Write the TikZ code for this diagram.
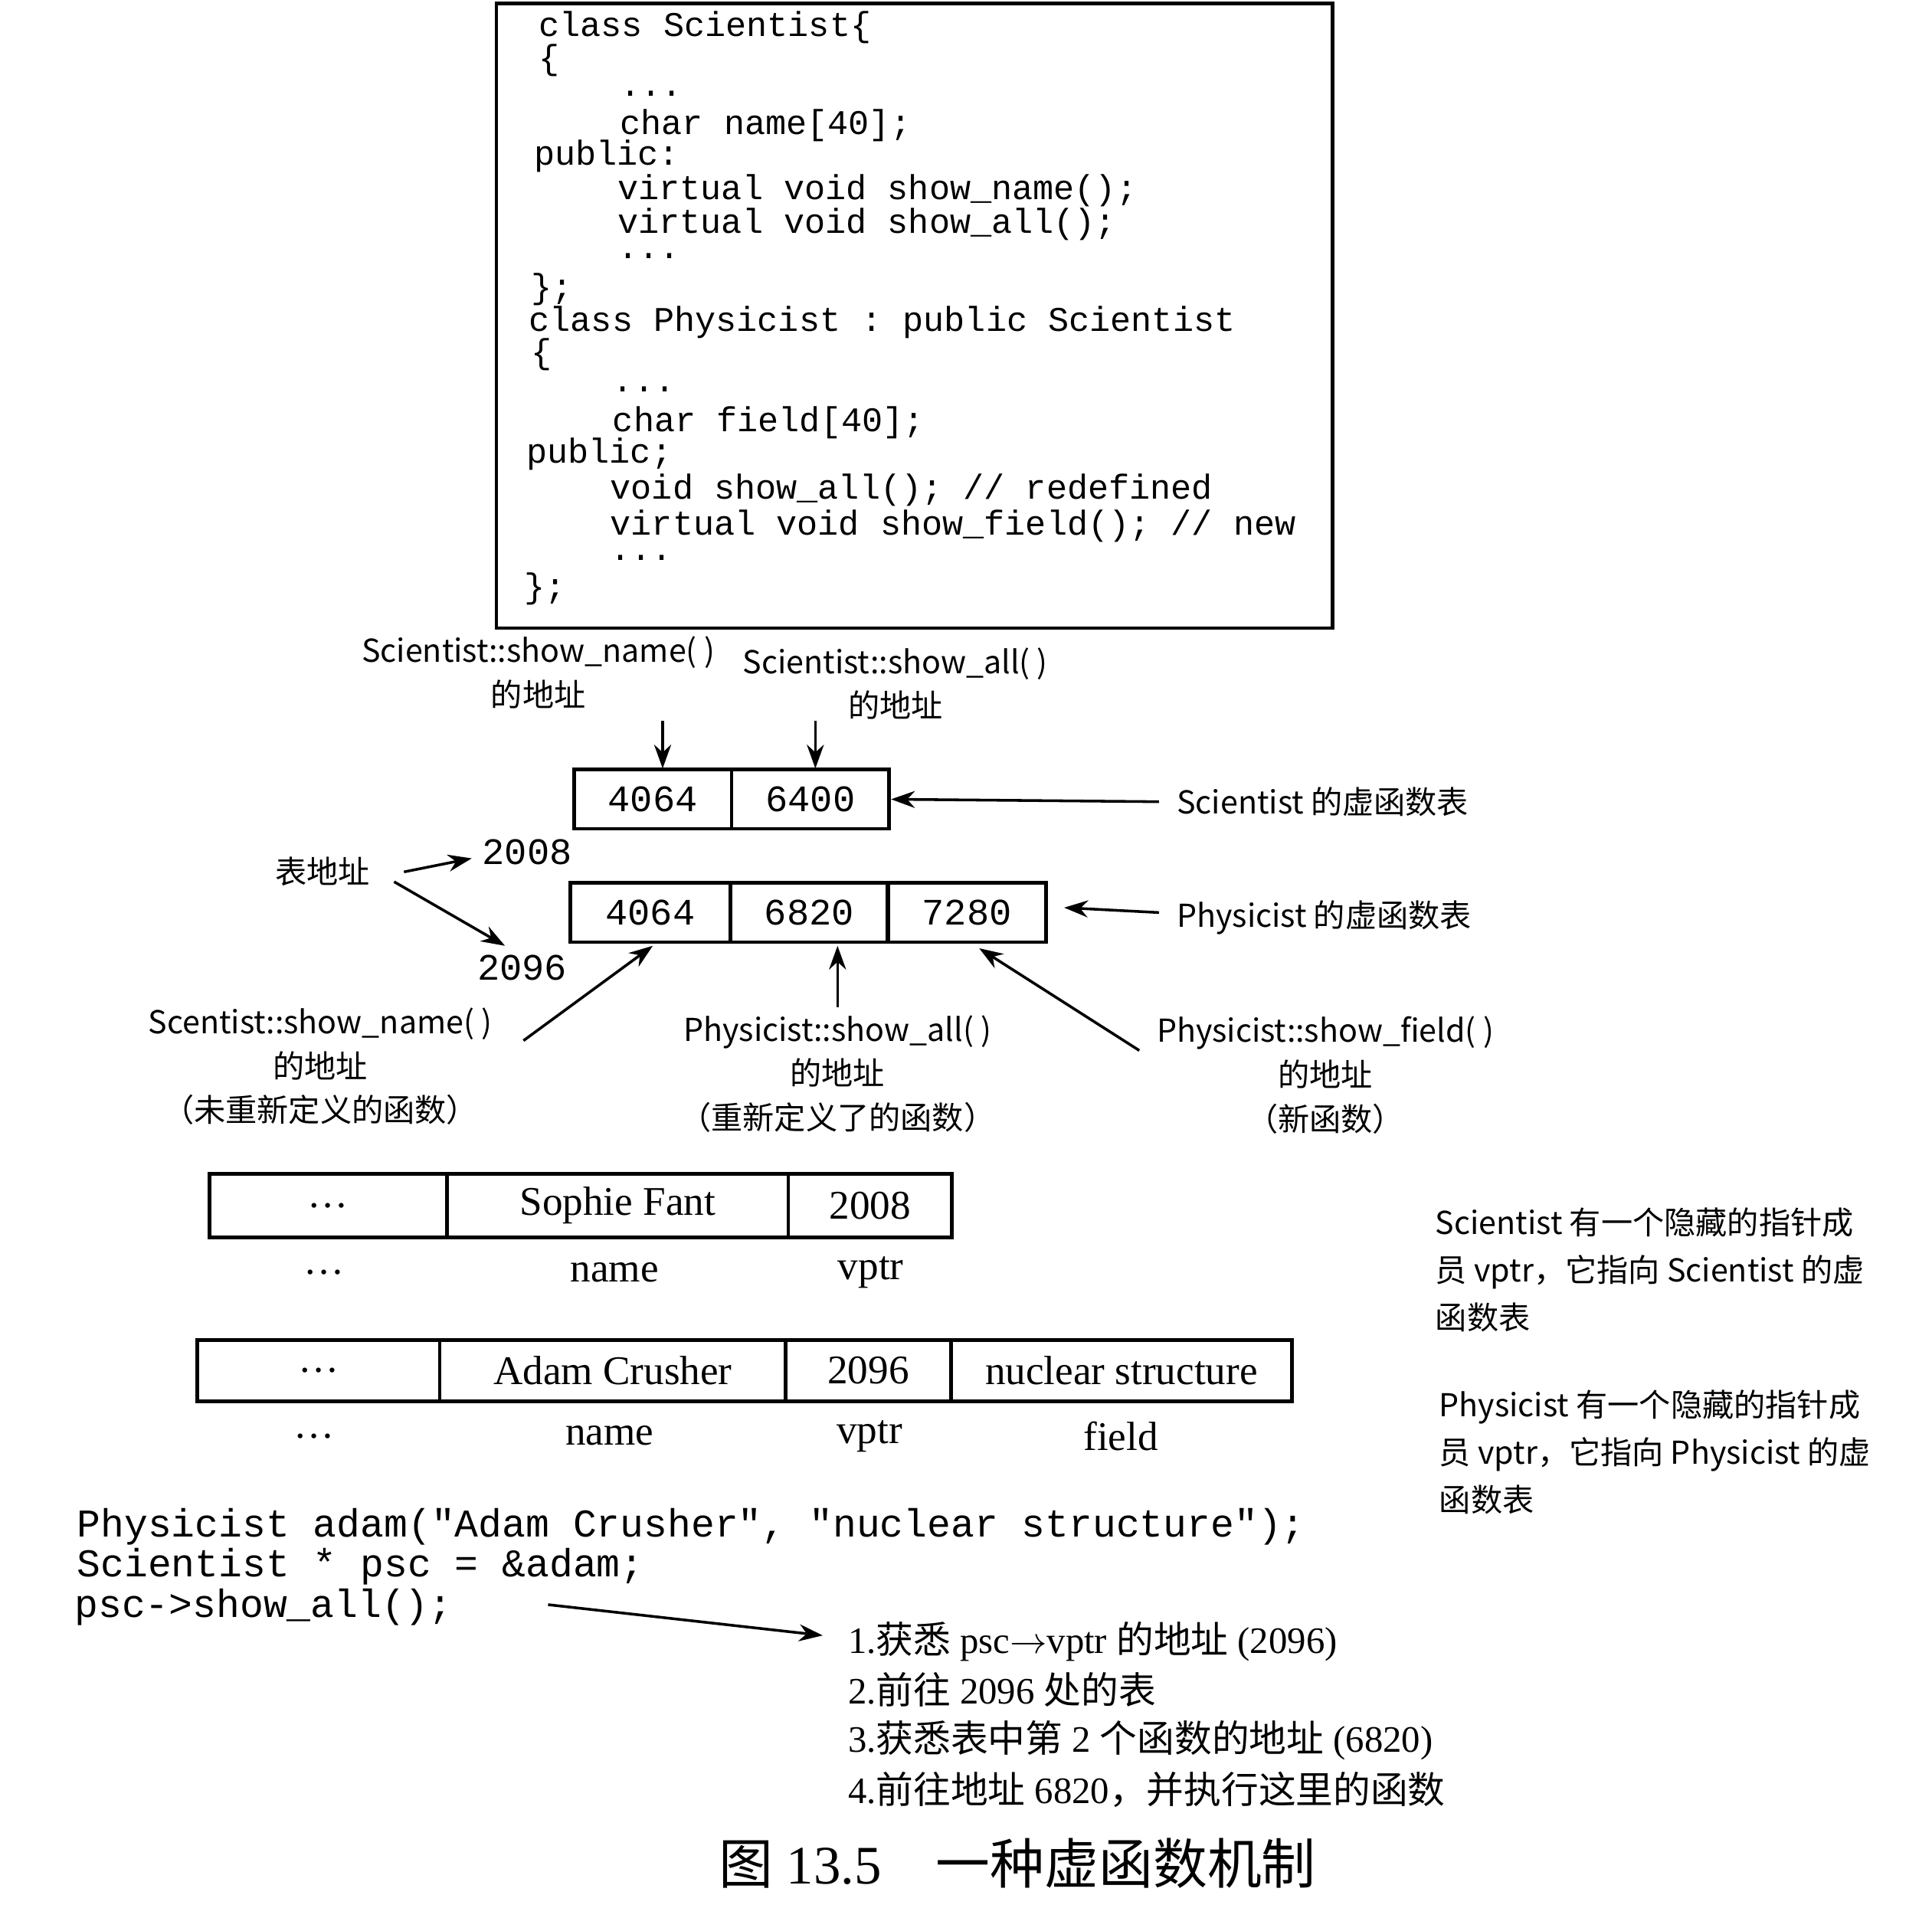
\documentclass[tikz,border=0pt]{standalone}
\usepackage{fontspec}
\setmainfont{Liberation Serif}
\setmonofont{Liberation Mono}
\newfontfamily\cjk{Noto Sans CJK SC}
\usetikzlibrary{arrows.meta}
\def\px{0.01276cm}
\tikzset{
  codeline/.style={anchor=west,inner sep=0pt,font=\ttfamily\fontsize{10.2}{12}\selectfont},
  bigcode/.style={anchor=west,inner sep=0pt,font=\ttfamily\fontsize{11.6}{13}\selectfont},
  cell/.style={draw,line width=1.1pt,inner sep=0pt,minimum height=#1*\px},
  num/.style={font=\ttfamily\fontsize{11}{13}\selectfont},
  obj/.style={font=\fontsize{12}{14}\selectfont},
  lbl/.style={inner sep=0pt,font=\cjk\fontsize{9.3}{11}\selectfont},
  stepline/.style={anchor=west,inner sep=0pt,font=\fontsize{11}{13}\selectfont},
  pointer/.style={-{Stealth[length=7pt,width=5pt]},line width=0.8pt}
}
\begin{document}
\begin{tikzpicture}[x=0.01276cm,y=-0.01276cm]
  \useasboundingbox (0,0) rectangle (1568,1568);
  % class declarations
  \draw[line width=1.1pt] (403,3) rectangle (1082,510);
  \node[codeline] at (437,22) {class Scientist\{};
  \node[codeline] at (437,49) {\{};
  \node[codeline] at (503,76) {...};
  \node[codeline] at (503,102) {char name[40];};
  \node[codeline] at (433,127) {public:};
  \node[codeline] at (501,155) {virtual void show\_name();};
  \node[codeline] at (501,182) {virtual void show\_all();};
  \node[codeline] at (501,208) {...};
  \node[codeline] at (431,235) {\};};
  \node[codeline] at (429,262) {class Physicist : public Scientist};
  \node[codeline] at (431,288) {\{};
  \node[codeline] at (497,316) {...};
  \node[codeline] at (497,343) {char field[40];};
  \node[codeline] at (427,369) {public;};
  \node[codeline] at (495,398) {void show\_all(); // redefined};
  \node[codeline] at (495,427) {virtual void show\_field(); // new};
  \node[codeline] at (495,453) {...};
  \node[codeline] at (425,478) {\};};
  % virtual tables
  \node[cell=48,minimum width=128*\px,num] (s1) at (530,649) {4064};
  \node[cell=48,minimum width=128*\px,num] (s2) at (658,649) {6400};
  \node[cell=48,minimum width=130*\px,num] (p1) at (528,741) {4064};
  \node[cell=48,minimum width=128*\px,num] (p2) at (657,741) {6820};
  \node[cell=48,minimum width=129*\px,num] (p3) at (785,741) {7280};
  \node[lbl,align=center] (tsn) at (437,546) {Scientist::show\_name( )\\[2pt]的地址};
  \node[lbl,align=center] (tsa) at (727,555) {Scientist::show\_all( )\\[2pt]的地址};
  \draw[pointer] (538,585) -- (538,624);
  \draw[pointer] (662,585) -- (662,624);
  \node[lbl,anchor=west] (stab) at (955,651) {Scientist 的虚函数表};
  \node[lbl,anchor=west] (ptab) at (955,745) {Physicist 的虚函数表};
  \draw[pointer] (stab.west) ++(-14,0) -- (s2.east);
  \draw[pointer] (ptab.west) ++(-14,-4) -- (864,737);
  \node[lbl] (addr) at (262,708) {表地址};
  \node[num] (a2008) at (428,692) {2008};
  \node[num] (a2096) at (424,786) {2096};
  \draw[pointer] (328,708) -- (383,697);
  \draw[pointer] (320,716) -- (410,768);
  \node[lbl,align=center] (fsn) at (260,866) {Scentist::show\_name( )\\[2pt]的地址\\[2pt]（未重新定义的函数）};
  \node[lbl,align=center] (fsa) at (680,872) {Physicist::show\_all( )\\[2pt]的地址\\[2pt]（重新定义了的函数）};
  \node[lbl,align=center] (fsf) at (1076,873) {Physicist::show\_field( )\\[2pt]的地址\\[2pt]（新函数）};
  \draw[pointer] (425,845) -- (530,768);
  \draw[pointer] (680,818) -- (680,768);
  \draw[pointer] (925,853) -- (795,770);
  % objects
  \node[cell=52,minimum width=193*\px,obj] (o1) at (266.5,979) {\ldots};
  \node[cell=52,minimum width=277*\px,obj] (o2) at (501.5,979) {Sophie Fant};
  \node[cell=52,minimum width=133*\px,obj] (o3) at (706.5,979) {2008};
  \node[obj] at (263,1033) {\ldots};
  \node[obj] at (499,1033) {name};
  \node[obj] at (707,1033) {vptr};
  \node[cell=50,minimum width=197*\px,obj] (q1) at (258.5,1113) {\ldots};
  \node[cell=50,minimum width=281*\px,obj] (q2) at (497.5,1113) {Adam Crusher};
  \node[cell=50,minimum width=134*\px,obj] (q3) at (705,1113) {2096};
  \node[cell=50,minimum width=277*\px,obj] (q4) at (910.5,1113) {nuclear structure};
  \node[obj] at (255,1166) {\ldots};
  \node[obj] at (495,1166) {name};
  \node[obj] at (706,1166) {vptr};
  \node[obj] at (910,1166) {field};
  \node[lbl,anchor=north west,align=left] (sn) at (1165,980) {Scientist 有一个隐藏的指针成\\[3pt]员 vptr，它指向 Scientist 的虚\\[3pt]函数表};
  \node[lbl,anchor=north west,align=left] (pn) at (1168,1128) {Physicist 有一个隐藏的指针成\\[3pt]员 vptr，它指向 Physicist 的虚\\[3pt]函数表};
  % call
  \node[bigcode] (c1) at (62,1240) {Physicist adam("Adam Crusher", "nuclear structure");};
  \node[bigcode] (c2) at (62,1272) {Scientist * psc = \&adam;};
  \node[bigcode] (c3) at (60,1305) {psc->show\_all();};
  \draw[pointer] (445,1303) -- (668,1328);
  \node[stepline] (st1) at (688,1333) {1.{\cjk 获悉} psc$\rightarrow$vptr {\cjk 的地址} (2096)};
  \node[stepline] (st2) at (688,1372) {2.{\cjk 前往} 2096 {\cjk 处的表}};
  \node[stepline] (st3) at (688,1413) {3.{\cjk 获悉表中第} 2 {\cjk 个函数的地址} (6820)};
  \node[stepline] (st4) at (688,1453) {4.{\cjk 前往地址} 6820{\cjk ，并执行这里的函数}};
  \node[font=\fontsize{16}{18}\selectfont] (cap) at (826,1513) {{\cjk 图} 13.5\quad{\cjk 一种虚函数机制}};
\end{tikzpicture}
\end{document}
